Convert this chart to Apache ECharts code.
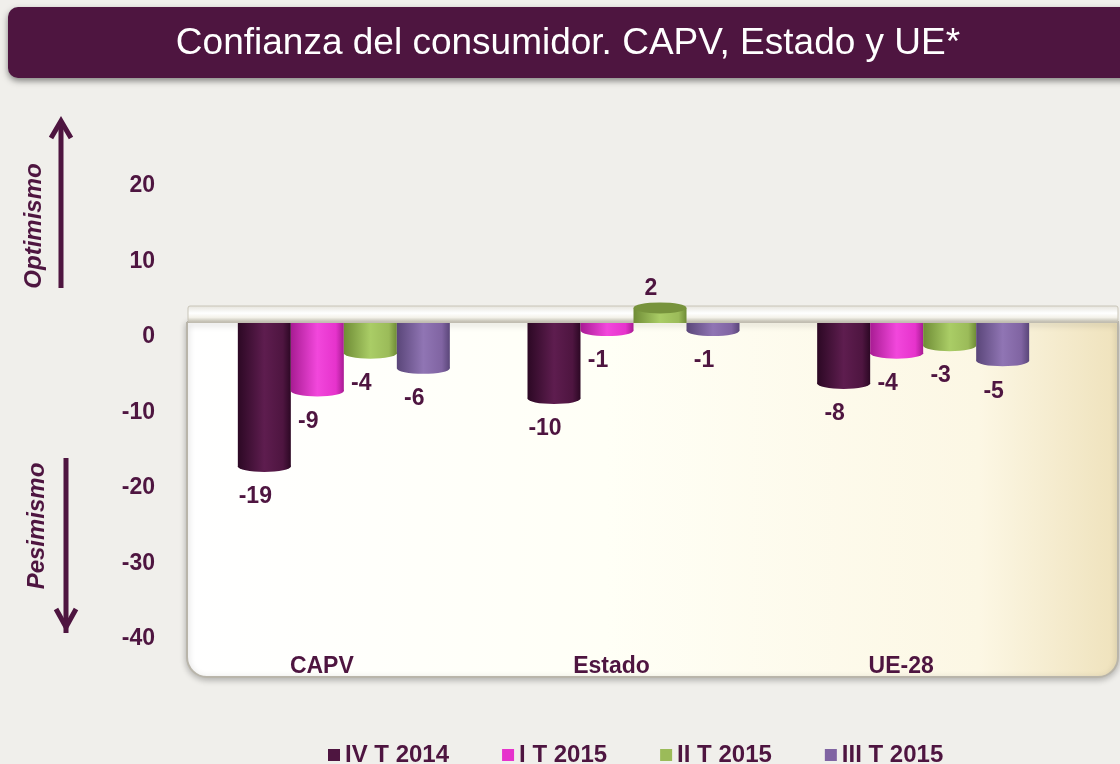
<!DOCTYPE html>
<html>
<head>
<meta charset="utf-8">
<script src="https://cdn.jsdelivr.net/npm/echarts@6/dist/echarts.min.js"></script>
<style>
html,body{margin:0;padding:0;background:#F0EFEB;}
#chart{width:1120px;height:764px;}
</style>
</head>
<body>
<div id="chart"></div>
<script>
const categories = ['CAPV', 'Estado', 'UE-28'];
const seriesNames = ['IV T 2014', 'I T 2015', 'II T 2015', 'III T 2015'];
const ivT2014 = [-19, -10, -8];
const iT2015 = [-9, -1, -4];
const iiT2015 = [-4, 2, -3];
const iiiT2015 = [-6, -1, -5];
const yTicks = [-40, -30, -20, -10, 0, 10, 20];
const titleText = 'Confianza del consumidor. CAPV, Estado y UE*';

const seriesValues = [ivT2014, iT2015, iiT2015, iiiT2015];
const baseColors = ['#4E1540', '#E633CC', '#9BBB59', '#8064A2'];
const darkColors = ['#2C0824', '#A81C93', '#6F8C36', '#5A4679'];
const lightColors = ['#5E1D4F', '#F247DC', '#AACD66', '#9075B4'];
const capTopColors = ['#3A0F30', '#C42AB0', '#77933C', '#6A5290'];
const FONT = "'Liberation Sans', Arial, sans-serif";
const TXT = '#4E1540';

function cyl(i) {
  return new echarts.graphic.LinearGradient(0, 0, 1, 0, [
    {offset: 0, color: darkColors[i]},
    {offset: 0.5, color: lightColors[i]},
    {offset: 0.85, color: baseColors[i]},
    {offset: 1, color: darkColors[i]}
  ]);
}

const BW = 53;
const series = [];
seriesValues.forEach((vals, i) => {
  series.push({
    name: seriesNames[i],
    type: 'bar',
    barWidth: BW,
    barGap: '0%',
    z: 3,
    itemStyle: {color: cyl(i)},
    data: vals.map(v => ({
      value: v,
      label: {
        position: v < 0 ? 'bottom' : 'top',
        distance: v < 0 ? 19 : 8,
        offset: [-9, 0]
      }
    })),
    label: {
      show: true,
      color: TXT,
      fontFamily: FONT,
      fontWeight: 'bold',
      fontSize: 23
    }
  });
});
seriesValues.forEach((vals, i) => {
  series.push({
    name: seriesNames[i] + ' cap',
    type: 'pictorialBar',
    symbol: 'circle',
    symbolSize: [BW, 11],
    symbolPosition: 'end',
    barGap: '0%',
    barWidth: BW,
    z: 4,
    silent: true,
    data: vals.map(v => ({
      value: v,
      symbolOffset: [0, v < 0 ? '50%' : '-50%'],
      itemStyle: {color: v < 0 ? cyl(i) : capTopColors[i]}
    }))
  });
});

const chart = echarts.init(document.getElementById('chart'), null, {renderer: 'canvas'});
chart.setOption({
  backgroundColor: '#F0EFEB',
  animation: false,
  textStyle: {fontFamily: FONT},
  grid: {left: 199, right: 52, top: 172, bottom: 139, containLabel: false},
  legend: {
    left: 323,
    top: 738,
    itemWidth: 12,
    itemHeight: 12,
    itemGap: 53,
    icon: 'rect',
    textStyle: {color: TXT, fontFamily: FONT, fontWeight: 'bold', fontSize: 24},
    data: seriesNames.map((n, i) => ({name: n, itemStyle: {color: baseColors[i]}}))
  },
  xAxis: {
    type: 'category',
    data: categories,
    position: 'bottom',
    axisLine: {show: false, onZero: false},
    axisTick: {show: false},
    splitLine: {show: false},
    axisLabel: {
      color: TXT, fontFamily: FONT, fontWeight: 'bold', fontSize: 23,
      margin: 30, padding: [0, 44, 0, 0]
    }
  },
  yAxis: {
    type: 'value',
    min: yTicks[0],
    max: yTicks[yTicks.length - 1],
    interval: 10,
    axisLine: {show: false},
    axisTick: {show: false},
    splitLine: {show: false},
    axisLabel: {
      color: TXT, fontFamily: FONT, fontWeight: 'bold', fontSize: 23,
      margin: 44, verticalAlign: 'top', lineHeight: 28
    }
  },
  graphic: [
    {
      type: 'rect', z: 0,
      shape: {x: 187, y: 322, width: 931, height: 355, r: [0, 0, 20, 20]},
      style: {
        fill: new echarts.graphic.LinearGradient(0, 0, 1, 0, [
          {offset: 0, color: '#FFFFFF'},
          {offset: 0.45, color: '#FFFFF6'},
          {offset: 0.85, color: '#FCF7E4'},
          {offset: 1, color: '#EFE2BC'}
        ]),
        stroke: '#B9B5AA', lineWidth: 2,
        shadowBlur: 6, shadowColor: 'rgba(0,0,0,0.25)', shadowOffsetY: 2
      }
    },
    {
      type: 'rect', z: 1,
      shape: {x: 188, y: 306, width: 930, height: 16, r: 2},
      style: {
        fill: new echarts.graphic.LinearGradient(0, 0, 0, 1, [
          {offset: 0, color: '#E4E2DA'},
          {offset: 0.45, color: '#FFFFFF'},
          {offset: 0.7, color: '#F4F2EA'},
          {offset: 1, color: '#B8B4A6'}
        ]),
        stroke: '#C9C5B8', lineWidth: 1
      }
    },
    {
      type: 'rect', z: 10,
      shape: {x: 8, y: 7, width: 1130, height: 71, r: 10},
      style: {fill: '#4E1540', shadowBlur: 6, shadowColor: 'rgba(0,0,0,0.45)', shadowOffsetY: 3}
    },
    {
      type: 'text', z: 11,
      x: 568, y: 44,
      style: {
        text: titleText, fill: '#FFFFFF', fontFamily: FONT, fontSize: 37,
        align: 'center', verticalAlign: 'middle'
      }
    },
    {
      type: 'line', z: 5,
      shape: {x1: 61, y1: 288, x2: 61, y2: 121},
      style: {stroke: '#4E1540', lineWidth: 5}
    },
    {
      type: 'polyline', z: 5,
      shape: {points: [[51, 138], [61, 121], [71, 138]]},
      style: {stroke: '#4E1540', lineWidth: 5, fill: null, lineJoin: 'miter'}
    },
    {
      type: 'line', z: 5,
      shape: {x1: 66, y1: 458, x2: 66, y2: 633},
      style: {stroke: '#4E1540', lineWidth: 5}
    },
    {
      type: 'polyline', z: 5,
      shape: {points: [[56, 609], [66, 627], [76, 609]]},
      style: {stroke: '#4E1540', lineWidth: 5, fill: null, lineJoin: 'miter'}
    },
    {
      type: 'text', z: 5,
      x: 34, y: 226, rotation: Math.PI / 2,
      style: {
        text: 'Optimismo', fill: '#4E1540', fontFamily: FONT, fontSize: 24,
        fontWeight: 'bold', fontStyle: 'italic', align: 'center', verticalAlign: 'middle'
      }
    },
    {
      type: 'text', z: 5,
      x: 37, y: 526, rotation: Math.PI / 2,
      style: {
        text: 'Pesimismo', fill: '#4E1540', fontFamily: FONT, fontSize: 24,
        fontWeight: 'bold', fontStyle: 'italic', align: 'center', verticalAlign: 'middle'
      }
    }
  ],
  series: series
});
</script>
</body>
</html>
